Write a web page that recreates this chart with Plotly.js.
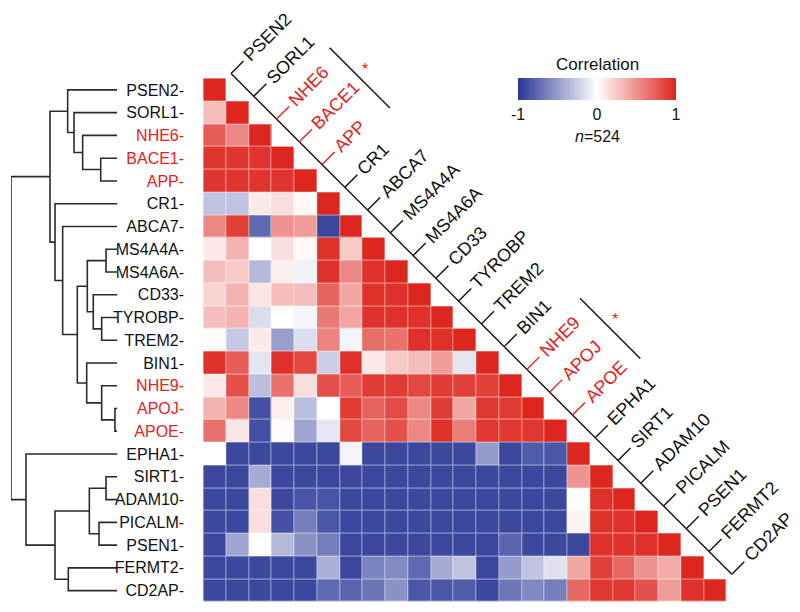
<!DOCTYPE html>
<html><head><meta charset="utf-8">
<script src="https://cdn.plot.ly/plotly-3.0.1.min.js"></script>
<style>html,body{margin:0;padding:0;background:#fff}#chart{width:800px;height:612px}</style>
</head><body><div id="chart"></div>
<script>
// ---------- data ----------
const genes = ['PSEN2','SORL1','NHE6','BACE1','APP','CR1','ABCA7','MS4A4A','MS4A6A','CD33','TYROBP','TREM2','BIN1','NHE9','APOJ','APOE','EPHA1','SIRT1','ADAM10','PICALM','PSEN1','FERMT2','CD2AP'];
const highlighted = ['NHE6','BACE1','APP','NHE9','APOJ','APOE'];
const starGroups = [['NHE6','BACE1','APP'],['NHE9','APOJ','APOE']];
const colorbarTicks = [-1, 0, 1];
const sampleSize = 524;

// lower triangle of the correlation matrix, one row per gene
const corrPSEN2  = [1];
const corrSORL1  = [0.3, 1];
const corrNHE6   = [0.75, 0.55, 1];
const corrBACE1  = [0.93, 0.93, 0.93, 1];
const corrAPP    = [0.93, 0.93, 0.93, 0.93, 1];
const corrCR1    = [-0.3, -0.3, 0.1, 0.15, 0.03, 1];
const corrABCA7  = [0.55, 0.88, -0.75, 0.5, 0.45, -0.92, 1];
const corrMS4A4A = [0.1, 0.35, 0.0, 0.15, 0.03, 0.95, 0.25, 1];
const corrMS4A6A = [0.3, 0.25, -0.35, 0.08, -0.06, 0.95, 0.55, 0.95, 1];
const corrCD33   = [0.2, 0.35, 0.12, 0.3, 0.3, 0.72, 0.4, 0.95, 0.95, 1];
const corrTYROBP = [0.3, 0.35, -0.17, 0.0, -0.05, 0.62, 0.42, 0.95, 0.95, 0.95, 1];
const corrTREM2  = [0.02, -0.27, 0.1, -0.48, -0.17, 0.57, -0.05, 0.67, 0.65, 0.95, 0.95, 1];
const corrBIN1   = [0.95, 0.75, -0.13, 0.95, 0.85, -0.25, 0.95, 0.1, 0.25, 0.3, 0.45, -0.13, 1];
const corrNHE9   = [0.1, 0.8, -0.32, 0.65, 0.15, 0.8, 0.75, 0.9, 0.9, 0.85, 0.9, 0.88, 0.88, 1];
const corrAPOJ   = [0.35, 0.55, -0.88, 0.08, -0.32, 0.0, 0.9, 0.72, 0.82, 0.55, 0.9, 0.4, 0.92, 0.9, 1];
const corrAPOE   = [0.65, 0.12, -0.88, 0.02, -0.45, -0.12, 0.85, 0.72, 0.8, 0.55, 0.95, 0.6, 0.92, 0.92, 0.92, 1];
const corrEPHA1  = [0.0, -0.92, -0.92, -0.92, -0.92, -0.92, -0.05, -0.92, -0.92, -0.92, -0.92, -0.92, -0.5, -0.92, -0.82, -0.85, 1];
const corrSIRT1  = [-0.92, -0.92, -0.42, -0.92, -0.92, -0.92, -0.92, -0.92, -0.92, -0.92, -0.92, -0.92, -0.92, -0.92, -0.92, -0.92, 0.5, 1];
const corrADAM10 = [-0.92, -0.92, 0.15, -0.92, -0.86, -0.86, -0.92, -0.92, -0.92, -0.92, -0.92, -0.92, -0.92, -0.92, -0.92, -0.92, 0.0, 0.95, 1];
const corrPICALM = [-0.92, -0.92, 0.15, -0.88, -0.65, -0.85, -0.92, -0.92, -0.92, -0.92, -0.92, -0.92, -0.92, -0.92, -0.92, -0.92, 0.05, 0.95, 0.95, 1];
const corrPSEN1  = [-0.92, -0.45, 0.0, -0.35, -0.55, -0.65, -0.92, -0.92, -0.92, -0.92, -0.92, -0.92, -0.92, -0.78, -0.92, -0.92, -0.92, 0.95, 0.95, 0.95, 1];
const corrFERMT2 = [-0.92, -0.92, -0.92, -0.92, -0.92, -0.4, -0.92, -0.62, -0.58, -0.75, -0.42, -0.3, -0.92, -0.5, -0.3, -0.15, 0.4, 0.88, 0.7, 0.5, 0.38, 1];
const corrCD2AP  = [-0.92, -0.92, -0.92, -0.92, -0.92, -0.75, -0.78, -0.7, -0.55, -0.85, -0.85, -0.82, -0.92, -0.68, -0.6, -0.65, 0.7, 0.92, 0.92, 0.8, 0.45, 0.95, 1];

const lowerRows = [corrPSEN2, corrSORL1, corrNHE6, corrBACE1, corrAPP, corrCR1, corrABCA7, corrMS4A4A, corrMS4A6A, corrCD33, corrTYROBP, corrTREM2, corrBIN1, corrNHE9, corrAPOJ, corrAPOE, corrEPHA1, corrSIRT1, corrADAM10, corrPICALM, corrPSEN1, corrFERMT2, corrCD2AP];

// hierarchical clustering (leaves 0..22, merged clusters numbered from 23)
const mergeLeft   = [3, 2, 1, 0, 7, 10, 9, 27, 14, 13, 12, 30, 6, 5, 26, 17, 19, 38, 21, 40, 16, 37];
const mergeRight  = [4, 23, 24, 25, 8, 11, 28, 29, 15, 31, 32, 33, 34, 35, 36, 18, 20, 39, 22, 41, 42, 43];
const mergeHeight = [0.156, 0.326, 0.407, 0.467, 0.106, 0.147, 0.226, 0.282, 0.022, 0.147, 0.288, 0.376, 0.514, 0.586, 0.633, 0.106, 0.172, 0.263, 0.461, 0.586, 0.859, 1.0];

// ---------- layout constants ----------
const W = 800, H = 612;
const cell = 22.76;
const hmLeft = 203.3, hmBottom = 602;
const dendLeft = 11, dendRight = 117.3;
const RED = '#e3221d';
const FONT = 'Liberation Sans, Arial, sans-serif';
const FS_ROW = 16, FS_COL = 18, FS_CB = 16;

const n = genes.length;
const idx = genes.map((g, i) => i);
const isRed = g => highlighted.includes(g);

const z = lowerRows.map(row => idx.map(c => (c < row.length ? row[c] : null)));

// dendrogram line segments
const nodeY = [], nodeH = [];
idx.forEach(i => { nodeY[i] = i; nodeH[i] = 0; });
const dx = [], dy = [];
mergeHeight.forEach((h, k) => {
  const a = mergeLeft[k], b = mergeRight[k];
  dx.push(nodeH[a], h, h, nodeH[b], null);
  dy.push(nodeY[a], nodeY[a], nodeY[b], nodeY[b], null);
  nodeY[n + k] = (nodeY[a] + nodeY[b]) / 2;
  nodeH[n + k] = h;
});

// under-layer (no gaps, paler) so that the cell gaps look like faint light lines
const heatUnder = {
  type: 'heatmap', z: z, x: idx, y: idx, zmin: -1, zmax: 1, hoverinfo: 'skip', showscale: false,
  colorscale: [[0, 'rgb(150,160,210)'], [0.5, 'rgb(255,255,255)'], [1, 'rgb(240,150,145)']]
};
const heat = {
  type: 'heatmap', z: z, x: idx, y: idx,
  zmin: -1, zmax: 1, xgap: 1, ygap: 1, hoverinfo: 'skip',
  colorscale: [[0, 'rgb(42,56,150)'], [0.5, 'rgb(255,255,255)'], [1, 'rgb(221,38,30)']],
  colorbar: {
    orientation: 'h', x: 597 / W, xanchor: 'center', y: 1 - 78 / H, yanchor: 'top',
    len: 158, lenmode: 'pixels', thickness: 22, thicknessmode: 'pixels',
    xpad: 0, ypad: 0, outlinewidth: 0, ticks: 'outside', ticklen: 1, tickcolor: 'rgba(0,0,0,0)',
    tickvals: colorbarTicks, ticktext: colorbarTicks.map(String),
    tickfont: {family: FONT, size: FS_CB, color: '#111'}
  }
};

const dend = {
  type: 'scatter', mode: 'lines', x: dx, y: dy, xaxis: 'x2', yaxis: 'y',
  line: {color: '#2a2a2a', width: 1.6}, hoverinfo: 'skip', showlegend: false
};

// column labels along the diagonal
const a1 = 0.72, a2 = 1.27, aText = 0.97, bOff = 3.45, starOff = 3.75;
const annotations = genes.map((g, c) => ({
  x: c + aText, y: c - aText, xref: 'x', yref: 'y', text: g,
  textangle: -45, xanchor: 'left', yanchor: 'bottom', showarrow: false,
  font: {family: FONT, size: FS_COL, color: isRed(g) ? RED : '#111'}
}));
const shapes = [{
  type: 'line', xref: 'x', yref: 'y', x0: a1, y0: -a1, x1: n - 1 + a1, y1: n - 1 - a1,
  line: {color: '#111', width: 1.4}
}];
genes.forEach((g, c) => shapes.push({
  type: 'line', xref: 'x', yref: 'y', x0: c + a1, y0: c - a1, x1: c + a2, y1: c - a2,
  line: {color: isRed(g) ? RED : '#111', width: 1.4}
}));
starGroups.forEach(grp => {
  const i0 = genes.indexOf(grp[0]), i2 = genes.indexOf(grp[grp.length - 1]);
  const s = i0 - 0.4, e = i2 + 0.25, m = (i0 + i2) / 2 - 0.15;
  shapes.push({type: 'line', xref: 'x', yref: 'y', x0: s + bOff, y0: s - bOff, x1: e + bOff, y1: e - bOff,
    line: {color: '#111', width: 1.4}});
  annotations.push({x: m + starOff, y: m - starOff, xref: 'x', yref: 'y', text: '*', showarrow: false,
    xanchor: 'center', yanchor: 'middle', font: {family: FONT, size: 16, color: RED}});
});
annotations.push({x: 597 / W, y: 1 - 65 / H, xref: 'paper', yref: 'paper', text: 'Correlation',
  xanchor: 'center', yanchor: 'middle', showarrow: false, font: {family: FONT, size: 17, color: '#111'}});
annotations.push({x: 597 / W, y: 1 - 136 / H, xref: 'paper', yref: 'paper', text: '<i>n</i>=' + sampleSize,
  xanchor: 'center', yanchor: 'middle', showarrow: false, font: {family: FONT, size: 16, color: '#111'}});

const layout = {
  width: W, height: H, margin: {l: 0, r: 0, t: 0, b: 0},
  paper_bgcolor: '#fff', plot_bgcolor: '#fff', showlegend: false,
  font: {family: FONT, size: FS_ROW, color: '#111'},
  xaxis: {domain: [hmLeft / W, 1], range: [-0.5, -0.5 + (W - hmLeft) / cell], visible: false, fixedrange: true},
  yaxis: {domain: [1 - hmBottom / H, 1], range: [n - 0.5, n - 0.5 - hmBottom / cell],
    tickvals: idx,
    ticktext: genes.map(g => isRed(g) ? '<span style="color:' + RED + '">' + g + '-</span>' : g + '-'),
    ticks: 'outside', ticklen: 15, tickcolor: 'rgba(0,0,0,0)', showgrid: false, zeroline: false, showline: false,
    tickfont: {family: FONT, size: FS_ROW, color: '#111'}, fixedrange: true},
  xaxis2: {domain: [dendLeft / W, dendRight / W], range: [1, 0], anchor: 'y', visible: false, fixedrange: true},
  annotations: annotations, shapes: shapes
};

Plotly.newPlot('chart', [heatUnder, heat, dend], layout, {displayModeBar: false, staticPlot: true});
</script></body></html>
